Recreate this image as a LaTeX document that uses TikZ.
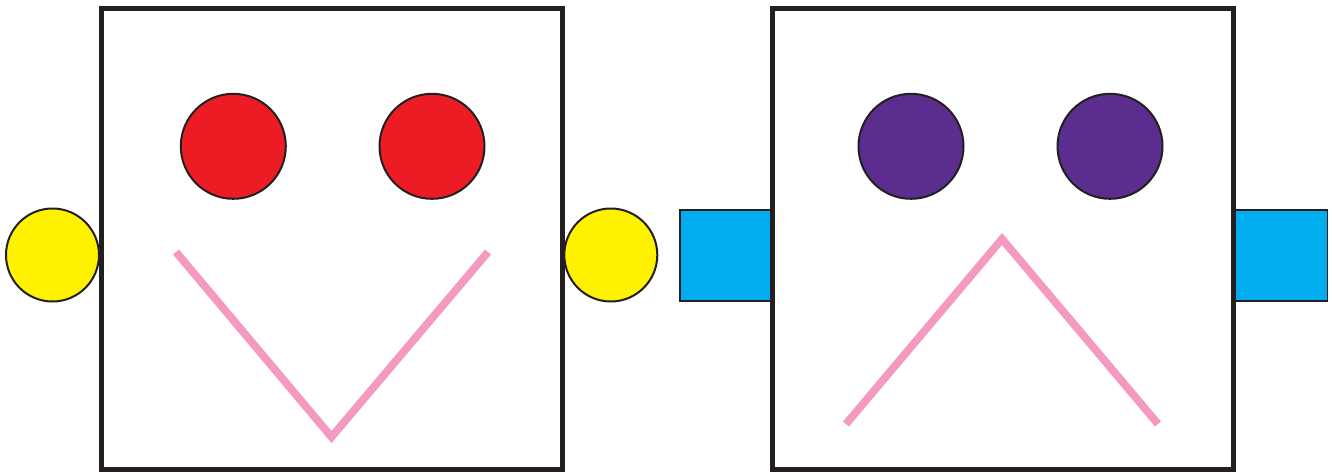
\documentclass[tikz,border=0pt]{standalone}
\definecolor{frame}{HTML}{231F20}
\definecolor{eyered}{HTML}{ED1C24}
\definecolor{eyepurple}{HTML}{5B2D8E}
\definecolor{earyellow}{HTML}{FFF200}
\definecolor{earblue}{HTML}{00AEEF}
\definecolor{mouthpink}{HTML}{F49AC1}
\begin{document}
\begin{tikzpicture}[x=1pt,y=-1pt,
  face/.style={draw=frame,line width=5pt,fill=white},
  eye/.style={circle,draw=frame,line width=2pt,minimum size=105pt,inner sep=0pt},
  roundear/.style={circle,draw=frame,fill=earyellow,line width=2pt,minimum size=93pt,inner sep=0pt},
  squareear/.style={draw=frame,fill=earblue,line width=1.8pt},
  mouth/.style={draw=mouthpink,line width=7.8pt,line join=miter,line cap=butt}]
\useasboundingbox (0,0) rectangle (1332,471);
% blue square ears (behind the right face)
\path[squareear] (680,210) rectangle (772,301);
\path[squareear] (1233,210) rectangle (1327.5,301);
% faces
\path[face] (101.5,8.5) rectangle (562.5,469);
\path[face] (772,8.5) rectangle (1233.3,469);
% eyes
\node[eye,fill=eyered] (le1) at (233.3,146.3) {};
\node[eye,fill=eyered] (le2) at (432,146.3) {};
\node[eye,fill=eyepurple] (re1) at (911,146.3) {};
\node[eye,fill=eyepurple] (re2) at (1110,146.3) {};
% yellow ears
\node[roundear] (ly1) at (52.5,255) {};
\node[roundear] (ly2) at (610.8,255) {};
% mouths
\coordinate (m1a) at (176,252);
\coordinate (m1b) at (331.5,437);
\coordinate (m1c) at (488,252);
\draw[mouth] (m1a) -- (m1b) -- (m1c);
\coordinate (m2a) at (846,424);
\coordinate (m2b) at (1002,239);
\coordinate (m2c) at (1158,424);
\draw[mouth] (m2a) -- (m2b) -- (m2c);
\end{tikzpicture}
\end{document}
